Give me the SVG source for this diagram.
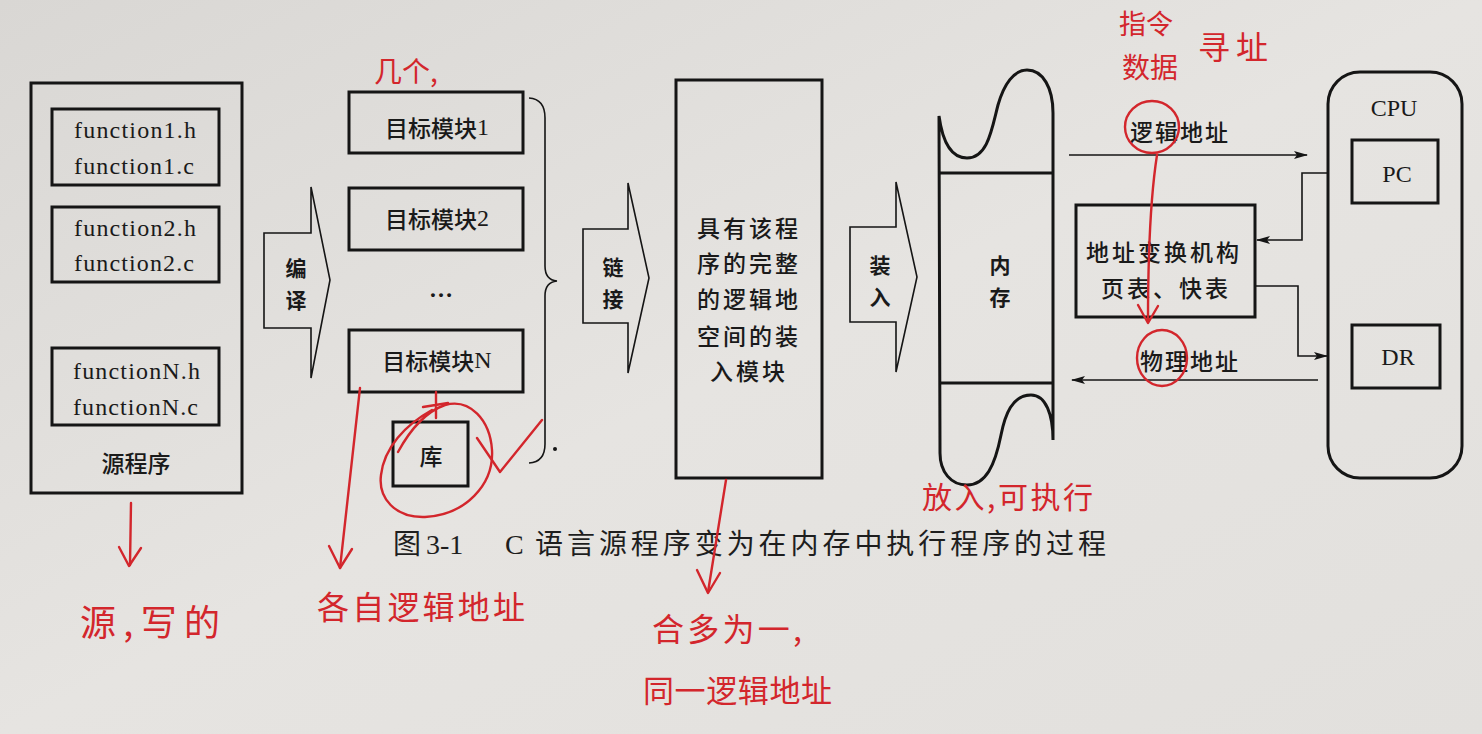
<svg xmlns="http://www.w3.org/2000/svg" width="1482" height="734" viewBox="0 0 1482 734">
<defs>
<linearGradient id="paper" x1="0" y1="0" x2="1" y2="1">
<stop offset="0" stop-color="#d9d7d4"/>
<stop offset="0.5" stop-color="#e6e4e1"/>
<stop offset="1" stop-color="#e2e0dd"/>
</linearGradient>
<marker id="ah" viewBox="0 0 14 10" refX="13" refY="5" markerWidth="14" markerHeight="10" markerUnits="userSpaceOnUse" orient="auto">
<path d="M0,1 L14,5 L0,9 L3,5 Z" fill="#151515"/>
</marker>
<style>
.box{fill:none;stroke:#151515;stroke-width:3}
.thin{fill:none;stroke:#151515;stroke-width:1.6}
.conn{fill:none;stroke:#151515;stroke-width:1.6}
.lat{font-family:"Liberation Serif","Noto Sans CJK SC",serif;font-size:24px;fill:#1a1a1a}
.cjk{font-family:"Noto Sans CJK SC","Noto Sans",sans-serif;font-size:23px;fill:#1a1a1a;font-weight:500}
.vert{font-family:"Noto Sans CJK SC","Noto Sans",sans-serif;font-size:21px;fill:#1a1a1a;font-weight:600}
.cap{font-family:"Liberation Serif","Noto Sans CJK SC",serif;font-size:28px;fill:#1e1e1e}
.red{fill:none;stroke:#d3262c;stroke-width:2.4;stroke-linecap:round;stroke-linejoin:round}
.hw{font-family:"Noto Sans CJK SC",sans-serif;fill:#d3262c;font-weight:400}
</style>
</defs>
<rect width="1482" height="734" fill="url(#paper)"/>

<g id="source">
<rect class="box" x="31" y="83" width="211" height="410"/>
<rect class="box" x="52" y="109" width="167" height="76"/>
<rect class="box" x="52" y="207" width="167" height="75"/>
<rect class="box" x="52" y="348" width="167" height="77"/>
<text class="lat" x="74" y="130" dominant-baseline="central" textLength="122" lengthAdjust="spacing">function1.h</text>
<text class="lat" x="74" y="166" dominant-baseline="central" textLength="120" lengthAdjust="spacing">function1.c</text>
<text class="lat" x="74" y="228" dominant-baseline="central" textLength="122" lengthAdjust="spacing">function2.h</text>
<text class="lat" x="74" y="263" dominant-baseline="central" textLength="120" lengthAdjust="spacing">function2.c</text>
<text class="lat" x="73" y="371" dominant-baseline="central" textLength="127" lengthAdjust="spacing">functionN.h</text>
<text class="lat" x="73" y="407" dominant-baseline="central" textLength="125" lengthAdjust="spacing">functionN.c</text>
<text class="cjk" x="136" y="462" text-anchor="middle" dominant-baseline="central">源程序</text>
</g>

<g id="compile">
<polygon class="thin" points="264,233 311,233 311,187 330,280 311,378 311,328 264,328"/>
<text class="vert" x="296" y="267" text-anchor="middle" dominant-baseline="central">编</text>
<text class="vert" x="296" y="299" text-anchor="middle" dominant-baseline="central">译</text>
</g>

<g id="obj1">
<rect class="box" x="349" y="92" width="174" height="61"/>
<text class="cjk" x="437" y="127" text-anchor="middle" dominant-baseline="central">目标模块<tspan class="lat">1</tspan></text>
</g>
<g id="obj2">
<rect class="box" x="349" y="188" width="174" height="62"/>
<text class="cjk" x="437" y="218" text-anchor="middle" dominant-baseline="central">目标模块<tspan class="lat">2</tspan></text>
</g>
<g id="dots">
<text class="lat" x="441" y="289" text-anchor="middle" dominant-baseline="central" font-weight="bold">…</text>
</g>
<g id="objN">
<rect class="box" x="349" y="330" width="174" height="62"/>
<text class="cjk" x="437" y="360" text-anchor="middle" dominant-baseline="central">目标模块<tspan class="lat">N</tspan></text>
</g>
<g id="lib">
<rect class="box" x="393" y="422" width="75" height="64"/>
<text class="cjk" x="431" y="455" text-anchor="middle" dominant-baseline="central">库</text>
</g>
<g id="brace">
<path class="thin" stroke-width="2" d="M529,98 Q545,99 545,118 L545,266 Q545,280 557,281 Q545,282 545,296 L545,444 Q545,462 529,463"/>
<circle cx="555" cy="449" r="2" fill="#151515"/>
</g>

<g id="link">
<polygon class="thin" points="583,229 628,229 628,183 649,278 628,373 628,323 583,323"/>
<text class="vert" x="613" y="266" text-anchor="middle" dominant-baseline="central">链</text>
<text class="vert" x="613" y="298" text-anchor="middle" dominant-baseline="central">接</text>
</g>

<g id="loadmodule">
<rect class="box" x="676" y="80" width="146" height="398"/>
<text class="cjk" text-anchor="middle" dominant-baseline="central" letter-spacing="3"><tspan x="749" y="227">具有该程</tspan><tspan x="749" y="262">序的完整</tspan><tspan x="749" y="298">的逻辑地</tspan><tspan x="749" y="335">空间的装</tspan><tspan x="749" y="370">入模块</tspan></text>
</g>

<g id="load">
<polygon class="thin" points="850,227 896,227 896,182 917,277 896,372 896,322 850,322"/>
<text class="vert" x="880" y="264" text-anchor="middle" dominant-baseline="central">装</text>
<text class="vert" x="880" y="296" text-anchor="middle" dominant-baseline="central">入</text>
</g>

<g id="memory">
<path class="box" d="M939,116 C943,145 952,158 967,158 C988,158 992,128 998,105 C1004,84 1014,70 1027,70 C1043,70 1053,88 1053,113 L1053,440 C1053,415 1046,395 1031,395 C1012,395 1005,415 1001,435 C995,465 986,485 967,485 C951,485 940,472 940,453 Z"/>
<line class="box" x1="939" y1="173" x2="1053" y2="173"/>
<line class="box" x1="939" y1="383" x2="1053" y2="383"/>
<text class="vert" x="1000" y="264" text-anchor="middle" dominant-baseline="central">内</text>
<text class="vert" x="1000" y="296" text-anchor="middle" dominant-baseline="central">存</text>
</g>

<g id="mmu">
<rect class="box" x="1076" y="205" width="179" height="112"/>
<text class="cjk" text-anchor="middle" dominant-baseline="central" letter-spacing="3"><tspan x="1164" y="251">地址变换机构</tspan><tspan x="1166" y="287">页表、快表</tspan></text>
</g>

<g id="cpu">
<rect class="box" x="1328" y="72" width="134" height="406" rx="32" ry="32"/>
<text class="lat" x="1394" y="108" text-anchor="middle" dominant-baseline="central">CPU</text>
<rect class="box" x="1352" y="140" width="86" height="63"/>
<text class="lat" x="1397" y="174" text-anchor="middle" dominant-baseline="central">PC</text>
<rect class="box" x="1352" y="325" width="88" height="63"/>
<text class="lat" x="1398" y="357" text-anchor="middle" dominant-baseline="central">DR</text>
</g>

<g id="connectors">
<line class="conn" x1="1069" y1="155" x2="1307" y2="155" marker-end="url(#ah)"/>
<polyline class="conn" points="1328,173 1302,173 1302,240 1257,240" marker-end="url(#ah)"/>
<polyline class="conn" points="1255,286 1298,286 1298,356 1327,356" marker-end="url(#ah)"/>
<line class="conn" x1="1318" y1="380" x2="1072" y2="380" marker-end="url(#ah)"/>
</g>

<g id="labels">
<text class="cjk" x="1180" y="131" text-anchor="middle" dominant-baseline="central" letter-spacing="2">逻辑地址</text>
<text class="cjk" x="1190" y="360" text-anchor="middle" dominant-baseline="central" letter-spacing="2">物理地址</text>
</g>

<g id="caption">
<text class="cap" x="393" y="544" dominant-baseline="central">图</text>
<text class="cap" x="426" y="544" dominant-baseline="central">3-1</text>
<text class="cap" x="505" y="544" dominant-baseline="central">C</text>
<text class="cap" x="535" y="544" dominant-baseline="central" textLength="571" lengthAdjust="spacing">语言源程序变为在内存中执行程序的过程</text>
</g>

<g id="annotations">
<text class="hw" x="406" y="70" font-size="28" text-anchor="middle" dominant-baseline="central">几个,</text>
<text class="hw" x="1146" y="22" font-size="27" text-anchor="middle" dominant-baseline="central">指令</text>
<text class="hw" x="1150" y="66" font-size="28" text-anchor="middle" dominant-baseline="central">数据</text>
<text class="hw" x="1236" y="45" font-size="32" text-anchor="middle" dominant-baseline="central" letter-spacing="6">寻址</text>
<text class="hw" x="922" y="495" font-size="30" dominant-baseline="central" textLength="171" lengthAdjust="spacing">放入,可执行</text>
<text class="hw" x="80" y="620" font-size="36" dominant-baseline="central" textLength="140" lengthAdjust="spacing">源,写的</text>
<text class="hw" x="317" y="605" font-size="32" dominant-baseline="central" textLength="208" lengthAdjust="spacing">各自逻辑地址</text>
<text class="hw" x="652" y="627" font-size="32" dominant-baseline="central" textLength="150" lengthAdjust="spacing">合多为一,</text>
<text class="hw" x="643" y="688" font-size="31" dominant-baseline="central" textLength="189" lengthAdjust="spacing">同一逻辑地址</text>

<ellipse class="red" cx="1152" cy="127" rx="27" ry="26"/>
<ellipse class="red" cx="1162" cy="358" rx="25" ry="28"/>
<path class="red" d="M1157,155 C1150,200 1148,260 1148,322"/>
<polyline class="red" points="1138,305 1148,323 1158,306"/>

<path class="red" d="M131,503 L130,565"/>
<polyline class="red" points="119,547 129,566 141,548"/>
<path class="red" d="M360,388 L340,568"/>
<polyline class="red" points="329,546 340,568 352,549"/>
<path class="red" d="M726,480 L708,592"/>
<polyline class="red" points="697,570 708,593 720,573"/>

<path class="red" d="M436,392 L436,418 M423,407 L448,403"/>
<path class="red" d="M398,452 C410,430 425,412 445,405 C470,398 490,420 492,450 C494,485 465,515 425,517 C395,518 378,498 381,475 C384,448 405,425 432,410"/>
<polyline class="red" points="477,438 500,472 542,420"/>
</g>
</svg>
